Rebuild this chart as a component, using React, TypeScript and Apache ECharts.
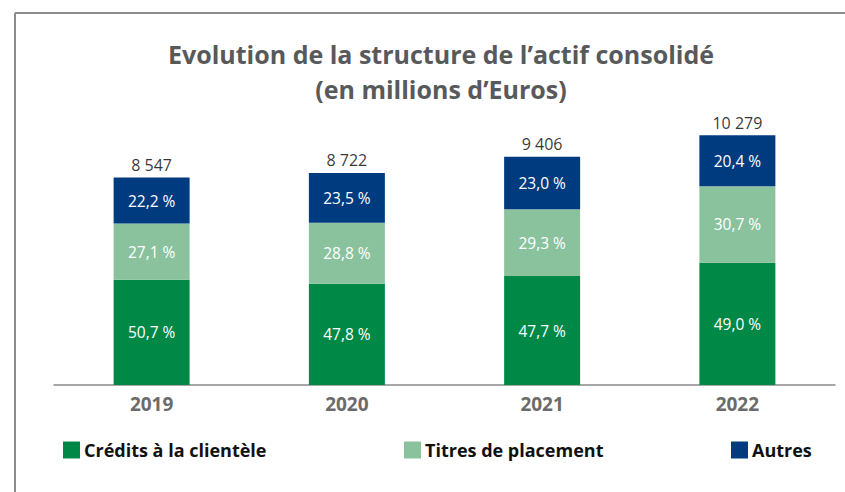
import React, { useEffect, useRef } from "react";
import * as echarts from "echarts";

const years = ["2019", "2020", "2021", "2022"];
const totals = [8547, 8722, 9406, 10279];
const creditsPct = [50.7, 47.8, 47.7, 49.0];
const titresPct = [27.1, 28.8, 29.3, 30.7];
const autresPct = [22.2, 23.5, 23.0, 20.4];
const seriesNames = ["Crédits à la clientèle", "Titres de placement", "Autres"];
const colors = ["#008847", "#8ac29e", "#003b7f"];

const FONT = "'Open Sans', Lato, sans-serif";

const fmtPct = (v: number) => v.toFixed(1).replace(".", ",") + " %";
const fmtTotal = (v: number) => String(v).replace(/\B(?=(\d{3})+(?!\d))/g, " ");

export default function App() {
  const ref = useRef<HTMLDivElement>(null);
  useEffect(() => {
    if (!ref.current) return;
    const chart = echarts.init(ref.current, null, { renderer: "svg" });
    const pcts = [creditsPct, titresPct, autresPct];
    const barSeries = pcts.map((arr, si) => ({
      name: seriesNames[si],
      type: "bar",
      stack: "total",
      barWidth: 76,
      itemStyle: { color: colors[si] },
      label: {
        show: true,
        position: "inside",
        color: "#ffffff",
        fontFamily: FONT,
        fontSize: 15.5,
        fontWeight: 500,
        formatter: (p: any) => fmtPct(arr[p.dataIndex]),
      },
      data: arr.map((v, i) => (totals[i] * v) / 100),
    }));
    const legendLefts = [58, 399, 726];
    chart.setOption({
      animation: false,
      backgroundColor: "#ffffff",
      title: {
        text: "Evolution de la structure de l\u2019actif consolidé\n(en millions d\u2019Euros)",
        left: 436,
        top: 31,
        textAlign: "center",
        textStyle: {
          fontFamily: FONT,
          fontSize: 25,
          fontWeight: "bold",
          color: "#58595b",
          lineHeight: 35,
        },
      },
      legend: seriesNames.map((n, i) => ({
        data: [n],
        left: legendLefts[i],
        top: 436,
        itemWidth: 17,
        itemHeight: 17,
        itemGap: 5,
        icon: "rect",
        selectedMode: false,
        textStyle: { fontFamily: FONT, fontSize: 18, fontWeight: "bold", color: "#111111", padding: [0, 0, 0, -1] },
      })),
      grid: { left: 54, right: 10, top: 118, bottom: 107 },
      xAxis: {
        type: "category",
        data: years,
        axisLine: { lineStyle: { color: "#8a8a8a", width: 1.5 } },
        axisTick: { show: false },
        axisLabel: {
          margin: 9,
          fontFamily: FONT,
          fontSize: 19,
          fontWeight: "bold",
          color: "#6b6b6b",
        },
      },
      yAxis: {
        type: "value",
        min: 0,
        max: 11000,
        show: false,
        splitLine: { show: false },
      },
      series: [
        ...barSeries,
        {
          name: "Total",
          type: "scatter",
          symbolSize: 0,
          silent: true,
          z: 10,
          label: {
            show: true,
            position: "top",
            distance: 5,
            color: "#000000",
            fontFamily: FONT,
            fontSize: 16,
            fontWeight: 500,
            formatter: (p: any) => fmtTotal(totals[p.dataIndex]),
          },
          data: totals,
        },
      ],
      graphic: [
        {
          type: "line",
          shape: { x1: 15, y1: 13, x2: 845, y2: 13 },
          style: { stroke: "#8c8c8c", lineWidth: 2 },
          silent: true,
        },
        {
          type: "line",
          shape: { x1: 15, y1: 13, x2: 15, y2: 492 },
          style: { stroke: "#8c8c8c", lineWidth: 2 },
          silent: true,
        },
      ],
    });
    return () => chart.dispose();
  }, []);
  return <div ref={ref} style={{ width: 845, height: 492, position: "absolute", left: 0, top: 0 }} />;
}
